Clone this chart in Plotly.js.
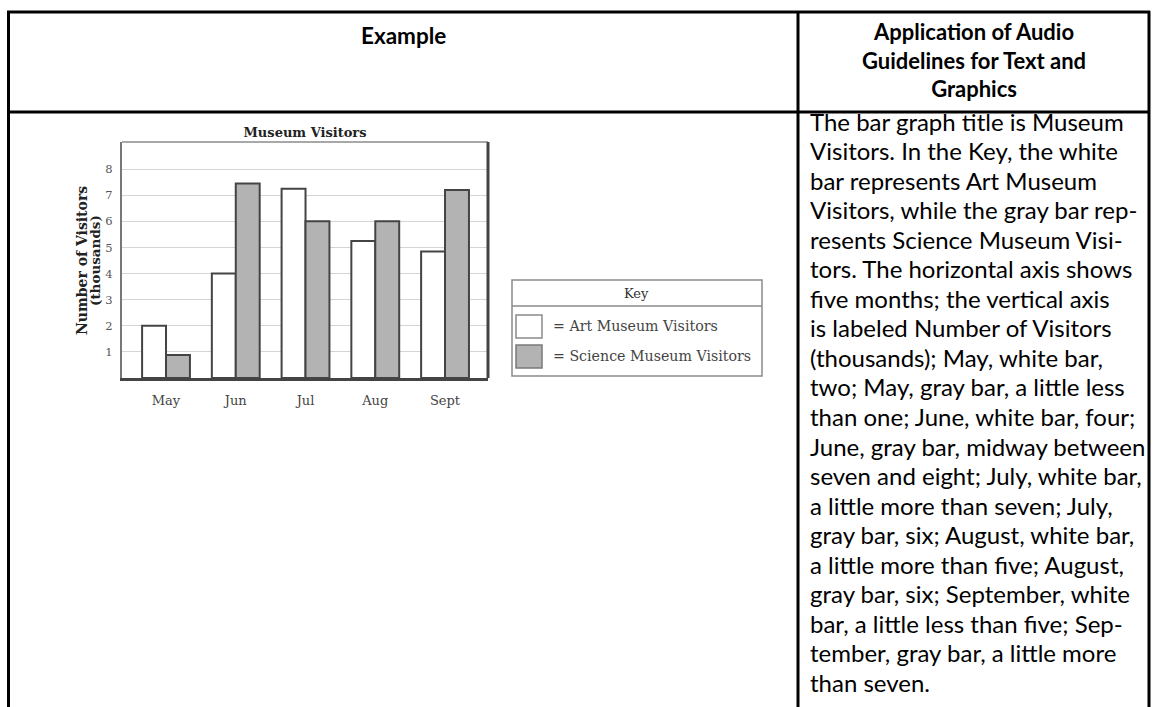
<!DOCTYPE html>
<html>
<head>
<meta charset="utf-8">
<script src="https://cdn.plot.ly/plotly-3.0.1.min.js"></script>
<style>html,body{margin:0;padding:0;background:#fff;}#chart{width:1156px;height:707px;}</style>
</head>
<body>
<div id="chart"></div>
<script>
// ---- data ----
const months = ['May', 'Jun', 'Jul', 'Aug', 'Sept'];
const artVisitors = [2.0, 4.0, 7.25, 5.25, 4.85];
const scienceVisitors = [0.88, 7.45, 6.0, 6.0, 7.2];
const yTickVals = [1, 2, 3, 4, 5, 6, 7, 8];
const yTickText = ['1', '2', '3', '4', '5', '6', '7', '8'];
const seriesNames = ['= Art Museum Visitors', '= Science Museum Visitors'];
const chartTitle = 'Museum Visitors';
const yTitle1 = 'Number of Visitors';
const yTitle2 = '(thousands)';
const keyTitle = 'Key';
const headerLeft = 'Example';
const headerRight = 'Application of Audio<br>Guidelines for Text and<br>Graphics';
const bodyLines = [
  'The bar graph title is Museum',
  'Visitors. In the Key, the white',
  'bar represents Art Museum',
  'Visitors, while the gray bar rep-',
  'resents Science Museum Visi-',
  'tors. The horizontal axis shows',
  'five months; the vertical axis',
  'is labeled Number of Visitors',
  '(thousands); May, white bar,',
  'two; May, gray bar, a little less',
  'than one; June, white bar, four;',
  'June, gray bar, midway between',
  'seven and eight; July, white bar,',
  'a little more than seven; July,',
  'gray bar, six; August, white bar,',
  'a little more than five; August,',
  'gray bar, six; September, white',
  'bar, a little less than five; Sep-',
  'tember, gray bar, a little more',
  'than seven.'
];

// ---- layout helpers (pixel -> paper) ----
const W = 1156, H = 707;
const px = v => v / W;
const py = v => 1 - v / H;

const artFill = '#ffffff', sciFill = '#b3b3b3', barLine = '#444444';
const serif = 'DejaVu Serif, Liberation Serif, serif';
const sans = 'Lato, Carlito, Open Sans, sans-serif';

const traces = [
  {type: 'bar', name: seriesNames[0], x: months, y: artVisitors,
   marker: {color: artFill, line: {color: barLine, width: 2}}, hoverinfo: 'x+y'},
  {type: 'bar', name: seriesNames[1], x: months, y: scienceVisitors,
   marker: {color: sciFill, line: {color: barLine, width: 2}}, hoverinfo: 'x+y'}
];

const tableLine = {color: '#000', width: 3};
const shapes = [
  // table
  {type: 'line', xref: 'paper', yref: 'paper', x0: px(7), x1: px(1150), y0: py(12), y1: py(12), line: tableLine},
  {type: 'line', xref: 'paper', yref: 'paper', x0: px(7), x1: px(1150), y0: py(112), y1: py(112), line: tableLine},
  {type: 'line', xref: 'paper', yref: 'paper', x0: px(8.5), x1: px(8.5), y0: py(11), y1: py(710), line: tableLine},
  {type: 'line', xref: 'paper', yref: 'paper', x0: px(798), x1: px(798), y0: py(11), y1: py(710), line: tableLine},
  {type: 'line', xref: 'paper', yref: 'paper', x0: px(1149), x1: px(1149), y0: py(11), y1: py(710), line: tableLine},
  // plot frame: top light, right dark
  {type: 'line', xref: 'x domain', yref: 'y domain', x0: 0, x1: 1, y0: 1, y1: 1, line: {color: '#a8a8a8', width: 2}},
  {type: 'line', xref: 'x domain', yref: 'y domain', x0: 1, x1: 1, y0: 0, y1: 1, line: {color: '#444', width: 3}},
  // key box
  {type: 'rect', xref: 'paper', yref: 'paper', x0: px(512), x1: px(762), y0: py(280), y1: py(376), line: {color: '#8a8a8a', width: 1.5}, fillcolor: 'rgba(0,0,0,0)'},
  {type: 'line', xref: 'paper', yref: 'paper', x0: px(512), x1: px(762), y0: py(306), y1: py(306), line: {color: '#8a8a8a', width: 1.5}},
  {type: 'rect', xref: 'paper', yref: 'paper', x0: px(516), x1: px(542), y0: py(315), y1: py(338), line: {color: '#8a8a8a', width: 1.5}, fillcolor: artFill},
  {type: 'rect', xref: 'paper', yref: 'paper', x0: px(516), x1: px(542), y0: py(345), y1: py(368), line: {color: '#7a7a7a', width: 1.5}, fillcolor: sciFill}
];

const annotations = [
  {xref: 'paper', yref: 'paper', x: px(403), y: py(35), text: headerLeft, showarrow: false, xanchor: 'center', yanchor: 'middle',
   font: {family: sans, size: 22.5, color: '#000', weight: 'bold'}},
  {xref: 'paper', yref: 'paper', x: px(974), y: py(60), text: headerRight, showarrow: false, xanchor: 'center', yanchor: 'middle', align: 'center',
   font: {family: sans, size: 22, color: '#000', weight: 'bold'}},
  {xref: 'paper', yref: 'paper', x: px(82), y: py(261), text: yTitle1, showarrow: false, textangle: -90, xanchor: 'center', yanchor: 'middle',
   font: {family: serif, size: 14, color: '#222', weight: 'bold'}},
  {xref: 'paper', yref: 'paper', x: px(95), y: py(261), text: yTitle2, showarrow: false, textangle: -90, xanchor: 'center', yanchor: 'middle',
   font: {family: serif, size: 13.5, color: '#222', weight: 'bold'}},
  {xref: 'paper', yref: 'paper', x: px(637), y: py(293), text: keyTitle, showarrow: false, xanchor: 'center', yanchor: 'middle',
   font: {family: serif, size: 13, color: '#333'}},
  {xref: 'paper', yref: 'paper', x: px(551), y: py(326), text: seriesNames[0], showarrow: false, xanchor: 'left', yanchor: 'middle',
   font: {family: serif, size: 14.2, color: '#444'}},
  {xref: 'paper', yref: 'paper', x: px(551), y: py(356), text: seriesNames[1], showarrow: false, xanchor: 'left', yanchor: 'middle',
   font: {family: serif, size: 14.2, color: '#444'}}
];
bodyLines.forEach((line, i) => {
  annotations.push({xref: 'paper', yref: 'paper', x: px(808), y: py(121 + i * 29.55), text: line, showarrow: false,
    xanchor: 'left', yanchor: 'middle', align: 'left', font: {family: sans, size: 24, color: '#000'}});
});

const layout = {
  width: W, height: H,
  margin: {l: 0, r: 0, t: 0, b: 0},
  paper_bgcolor: '#fff', plot_bgcolor: '#fff',
  showlegend: false,
  barmode: 'group', bargap: 0.314, bargroupgap: 0,
  title: {text: chartTitle, x: px(305), y: py(132), xanchor: 'center', yanchor: 'middle', xref: 'paper', yref: 'paper',
          font: {family: serif, size: 13, color: '#222', weight: 'bold'}},
  xaxis: {domain: [px(122), px(488)], type: 'category', range: [-0.631, 4.616],
          showline: true, linecolor: '#444', linewidth: 3, showgrid: false, zeroline: false,
          ticks: 'outside', ticklen: 8, tickcolor: 'rgba(0,0,0,0)',
          tickfont: {family: serif, size: 13, color: '#444'}, fixedrange: true},
  yaxis: {domain: [py(378), py(142)], range: [0, 9.04], tickvals: yTickVals, ticktext: yTickText,
          showline: true, linecolor: '#777', linewidth: 2, showgrid: true, gridcolor: '#d4d4d4', gridwidth: 1,
          zeroline: false, ticks: 'outside', ticklen: 5, tickcolor: 'rgba(0,0,0,0)',
          tickfont: {family: serif, size: 11.5, color: '#555'}, fixedrange: true},
  shapes: shapes,
  annotations: annotations
};

Plotly.newPlot('chart', traces, layout, {displayModeBar: false, staticPlot: true});
</script>
</body>
</html>
